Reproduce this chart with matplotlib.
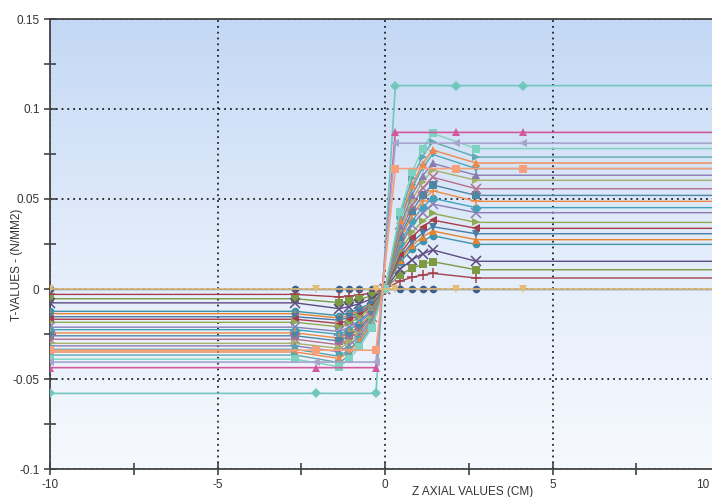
import numpy as np
import matplotlib
matplotlib.use("Agg")
import matplotlib.pyplot as plt
from matplotlib.colors import LinearSegmentedColormap
from matplotlib.ticker import MultipleLocator
from matplotlib.transforms import ScaledTranslation

# Axial positions of the stations
x_ramp = [-10, -2.68, -1.36, -1.07, -0.77, -0.39, 0, 0.45, 0.81, 1.12, 1.42, 2.72, 10]
x_step = [-10, -2.07, -0.27, 0.31, 2.13, 4.13, 10]

# Shear stress values (N/mm2) for the graded series
t01 = [0, 0, 0, 0, 0, 0, 0, 0, 0, 0, 0, 0, 0]
t02 = [-0.003, -0.003, -0.0044, -0.004, -0.0033, -0.0022, 0, 0.0044, 0.0065, 0.0078, 0.0087, 0.0061, 0.0061]
t03 = [-0.0054, -0.0054, -0.0076, -0.0068, -0.0057, -0.0038, 0, 0.008, 0.0115, 0.0137, 0.0152, 0.0107, 0.0107]
t04 = [-0.0077, -0.0077, -0.0109, -0.0098, -0.0082, -0.0054, 0, 0.011, 0.0163, 0.0195, 0.0217, 0.0154, 0.0154]
t05 = [-0.0124, -0.0124, -0.0148, -0.0133, -0.0111, -0.0074, 0, 0.0148, 0.0222, 0.0266, 0.0296, 0.0248, 0.0248]
t06 = [-0.0137, -0.0137, -0.0161, -0.0145, -0.0121, -0.008, 0, 0.0161, 0.0242, 0.029, 0.0322, 0.0274, 0.0274]
t07 = [-0.0154, -0.0154, -0.0173, -0.0156, -0.013, -0.0087, 0, 0.0173, 0.026, 0.0311, 0.0346, 0.0307, 0.0307]
t08 = [-0.0168, -0.0168, -0.0192, -0.0172, -0.0144, -0.0096, 0, 0.0192, 0.0287, 0.0345, 0.0383, 0.0337, 0.0337]
t09 = [-0.0185, -0.0185, -0.021, -0.0189, -0.0158, -0.0105, 0, 0.021, 0.0315, 0.0378, 0.042, 0.037, 0.037]
t10 = [-0.0212, -0.0212, -0.0236, -0.0212, -0.0177, -0.0118, 0, 0.0236, 0.0354, 0.0425, 0.0472, 0.0424, 0.0424]
t11 = [-0.0226, -0.0226, -0.0252, -0.0227, -0.0189, -0.0126, 0, 0.0252, 0.0378, 0.0454, 0.0504, 0.0452, 0.0452]
t12 = [-0.0244, -0.0244, -0.0273, -0.0246, -0.0205, -0.0137, 0, 0.0273, 0.041, 0.0491, 0.0546, 0.0487, 0.0487]
t13 = [-0.026, -0.026, -0.0289, -0.026, -0.0217, -0.0145, 0, 0.0289, 0.0434, 0.052, 0.0578, 0.052, 0.052]
t14 = [-0.0279, -0.0279, -0.031, -0.0279, -0.0233, -0.0155, 0, 0.031, 0.0466, 0.0559, 0.0621, 0.0557, 0.0557]
t15 = [-0.0302, -0.0302, -0.033, -0.0297, -0.0248, -0.0165, 0, 0.033, 0.0496, 0.0595, 0.0661, 0.0604, 0.0604]
t16 = [-0.0316, -0.0316, -0.0349, -0.0314, -0.0262, -0.0175, 0, 0.0349, 0.0524, 0.0628, 0.0698, 0.0632, 0.0632]
t17 = [-0.0335, -0.0335, -0.0374, -0.0337, -0.0281, -0.0187, 0, 0.0374, 0.0561, 0.0673, 0.0748, 0.0669, 0.0669]
t18 = [-0.035, -0.035, -0.0386, -0.0347, -0.029, -0.0193, 0, 0.0386, 0.0579, 0.0695, 0.0772, 0.070, 0.070]
t19 = [-0.0367, -0.0367, -0.0409, -0.0368, -0.0307, -0.0205, 0, 0.0409, 0.0614, 0.0736, 0.0818, 0.0733, 0.0733]
t20 = [-0.039, -0.039, -0.0432, -0.0389, -0.0324, -0.0216, 0, 0.043, 0.065, 0.078, 0.0865, 0.078, 0.078]

# Shear stress values (N/mm2) for the stepped series
s01 = [-0.058, -0.058, -0.058, 0.113, 0.113, 0.113, 0.113]
s02 = [-0.0437, -0.0437, -0.0437, 0.087, 0.087, 0.087, 0.087]
s03 = [-0.0406, -0.0406, -0.0406, 0.081, 0.081, 0.081, 0.081]
s04 = [-0.034, -0.034, -0.034, 0.0669, 0.0669, 0.0669, 0.0669]
s05 = [0, 0, 0, 0, 0, 0, 0]

# Axis ticks
x_ticks = [-10, -5, 0, 5, 10]
x_tick_labels = ["-10", "-5", "0", "5", "10"]
y_ticks = [-0.1, -0.05, 0, 0.05, 0.1, 0.15]
y_tick_labels = ["-0.1", "-0.05", "0", "0.05", "0.1", "0.15"]

ramp_series = [t01, t02, t03, t04, t05, t06, t07, t08, t09, t10,
               t11, t12, t13, t14, t15, t16, t17, t18, t19, t20]
ramp_style = [
    ("#3e5f8d", "o"), ("#a3404c", "+"), ("#7b9a41", "s"), ("#5d4b82", "x"),
    ("#3f93ab", "o"), ("#e5832f", "^"), ("#4a7ba7", "v"), ("#a73c4b", "<"),
    ("#8fab4f", ">"), ("#8b7cb3", "x"), ("#43a1b9", "o"), ("#ee8a45", "+"),
    ("#4d86a5", "s"), ("#b3708f", "x"), ("#a6b06b", ">"), ("#8a7cb0", "^"),
    ("#4fa6b3", "v"), ("#f0874a", "^"), ("#5fa8ae", ">"), ("#7dd3c0", "s"),
]
step_series = [s01, s02, s03, s04, s05]
step_style = [("#72c7bd", "D"), ("#d4589c", "^"), ("#a6a6cc", "<"),
              ("#f5a07a", "s"), ("#e2bd78", "v")]

fig = plt.figure(figsize=(7.12, 4.97), dpi=100)
fig.patch.set_facecolor("white")
ax = fig.add_axes([50 / 712, 28 / 497, 670 / 712, 450 / 497])

# vertical gradient background
grad = LinearSegmentedColormap.from_list("bg", ["#f6f9fe", "#e2ecfa", "#c3d8f5"])
ax.imshow(np.linspace(0, 1, 256).reshape(-1, 1), cmap=grad, origin="lower",
          extent=[0, 1, 0, 1], transform=ax.transAxes, aspect="auto", zorder=0)

ax.set_xlim(-10, 10)
ax.set_ylim(-0.1, 0.15)

ax.grid(True, which="major", color="black", linestyle=(0, (1.2, 2.6)), linewidth=1.1, zorder=1)

for vals, (c, m) in zip(ramp_series, ramp_style):
    thin = m in ("x", "+")
    ax.plot(x_ramp, vals, color=c, linewidth=1.0, marker=m,
            markersize=7 if thin else 5.5,
            markeredgewidth=1.1 if thin else 0, zorder=3)

for vals, (c, m) in zip(step_series, step_style):
    ax.plot(x_step, vals, color=c, linewidth=1.2, marker=m,
            markersize=5 if m == "D" else 5.5, markeredgewidth=0, zorder=3)

ax.xaxis.set_minor_locator(MultipleLocator(2.5))
ax.yaxis.set_minor_locator(MultipleLocator(0.025))
ax.set_yticks(y_ticks)
ax.set_yticklabels(y_tick_labels)
ax.set_xticks(x_ticks)
ax.set_xticklabels(x_tick_labels)

ax.tick_params(which="both", direction="inout", length=9, width=1.1, color="#333333",
               labelsize=8.5, labelcolor="#333333", pad=3)
for lbl in ax.get_xticklabels() + ax.get_yticklabels():
    lbl.set_fontfamily("Liberation Sans")

# keep the last x label inside the canvas edge
last = ax.get_xticklabels()[-1]
last.set_transform(last.get_transform() + ScaledTranslation(-17 / 100, 0, fig.dpi_scale_trans))

for side in ("left", "bottom", "top"):
    ax.spines[side].set_color("#444444")
    ax.spines[side].set_linewidth(1.3)
ax.spines["right"].set_visible(False)

fig.text(17 / 712, 1 - 265 / 497, "T-VALUES - (N/MM2)", rotation=90,
         ha="center", va="center", fontsize=8.5, color="#333333", family="Liberation Sans")
fig.text(473 / 712, 1 - 492 / 497, "Z AXIAL VALUES (CM)", ha="center", va="center",
         fontsize=8.5, color="#333333", family="Liberation Sans")

fig.savefig("out.png", dpi=100)
